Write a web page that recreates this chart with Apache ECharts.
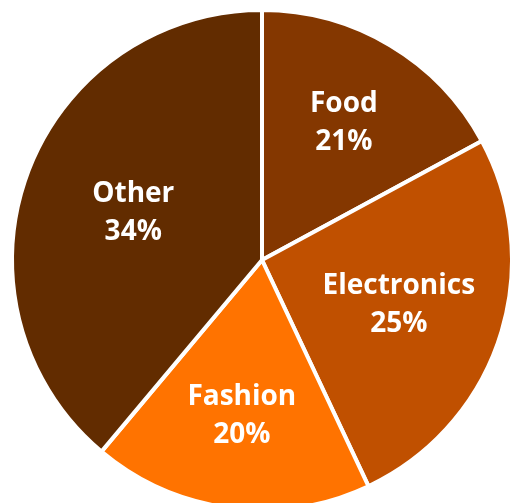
<!DOCTYPE html>
<html>
<head>
<meta charset="utf-8">
<style>html,body{margin:0;padding:0;background:#fff;}#chart{width:512px;height:503px;}</style>
<script src="https://cdn.jsdelivr.net/npm/echarts@6/dist/echarts.min.js"></script>
</head>
<body>
<div id="chart"></div>
<script>
const categories = ['Food', 'Electronics', 'Fashion', 'Other'];
const values = [17.1, 25.9, 18.1, 38.9];
const pctLabels = ['21%', '25%', '20%', '34%'];
const colors = ['#843700', '#c05000', '#ff7300', '#622c00'];
const labelRadius = [157, 141, 154, 134];

const R = 250;
const center = [262, 260];
const chart = echarts.init(document.getElementById('chart'), null, {renderer: 'canvas'});

const baseData = categories.map((c, i) => ({
  name: c, value: values[i], itemStyle: {color: colors[i]}
}));

const series = [{
  type: 'pie', center: center, radius: [0, R], startAngle: 90, clockwise: true,
  animation: false, silent: true,
  itemStyle: {borderColor: '#fff', borderWidth: 4},
  label: {show: false}, labelLine: {show: false},
  data: baseData
}];

categories.forEach((c, k) => {
  series.push({
    type: 'pie', center: center, radius: [2 * labelRadius[k] - R, R], startAngle: 90, clockwise: true,
    animation: false, silent: true, z: 5,
    itemStyle: {color: 'rgba(0,0,0,0)', borderWidth: 0},
    labelLine: {show: false},
    label: {show: false},
    data: categories.map((cc, i) => ({
      name: cc, value: values[i],
      label: {
        show: i === k, position: 'inner',
        formatter: cc + '\n' + pctLabels[i],
        color: '#fff', fontFamily: 'Open Sans', fontWeight: 'bold', fontSize: 28,
        lineHeight: 38, align: 'center', verticalAlign: 'middle'
      }
    }))
  });
});

chart.setOption({backgroundColor: '#fff', animation: false, series: series});
</script>
</body>
</html>
